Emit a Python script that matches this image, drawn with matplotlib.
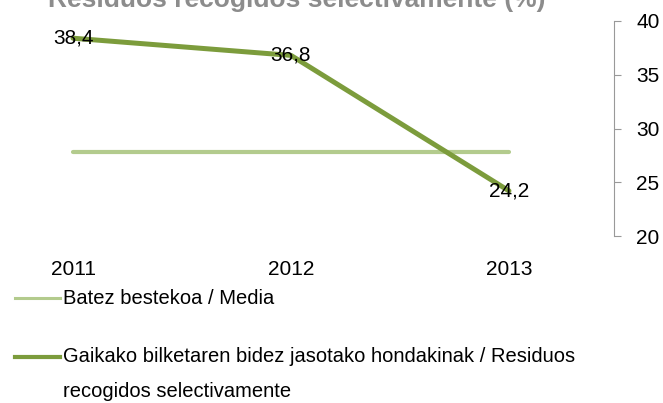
import matplotlib
matplotlib.use('Agg')
import matplotlib.pyplot as plt
from matplotlib.lines import Line2D

years = ['2011', '2012', '2013']
residuos = [38.4, 36.8, 24.2]
media = [27.8, 27.8, 27.8]
labels = ['38,4', '36,8', '24,2']
y_ticks = [20, 25, 30, 35, 40]

title = 'Residuos recogidos selectivamente (%)'
leg_media = 'Batez bestekoa / Media'
leg_res = 'Gaikako bilketaren bidez jasotako hondakinak / Residuos\nrecogidos selectivamente'

plt.rcParams['font.family'] = ['Liberation Sans', 'DejaVu Sans']

W, H = 663, 403
fig = plt.figure(figsize=(W / 100, H / 100), dpi=100)

# axes placed in pixel coords: spine at x=614, y from 21 (40) to 236 (20)
ax = fig.add_axes([0, 1 - 236 / H, 614 / W, (236 - 21) / H])
x = list(range(len(years)))
ax.plot(x, media, color='#b3cb8d', lw=3.0, solid_capstyle='round')
ax.plot(x, residuos, color='#7c9c3c', lw=3.6, solid_capstyle='round', solid_joinstyle='round')
for xi, yi, s in zip(x, residuos, labels):
    ax.text(xi, yi, s, ha='center', va='center', fontsize=15, color='black')

ax.set_xlim(-0.335, 2.482)
ax.set_ylim(20, 40)
ax.set_xticks(x)
ax.set_xticklabels(years, fontsize=15)
ax.tick_params(axis='x', length=0, pad=17)
ax.yaxis.tick_right()
ax.set_yticks(y_ticks)
ax.tick_params(axis='y', direction='out', length=5, color='#999999', labelsize=15, pad=11)
for side in ['left', 'top', 'bottom']:
    ax.spines[side].set_visible(False)
ax.spines['right'].set_color('#999999')
ax.patch.set_alpha(0)

fig.text(297 / W, 1 - 7 / H, title, ha='center', va='baseline', fontsize=19,
         fontweight='bold', color='#8c8c8c')

# legend
fig.add_artist(Line2D([15 / W, 60 / W], [1 - 298 / H] * 2, color='#b3cb8d', lw=2.2))
fig.text(63 / W, 1 - 298 / H, leg_media, ha='left', va='center', fontsize=14.5)
fig.add_artist(Line2D([15 / W, 60 / W], [1 - 357 / H] * 2, color='#7c9c3c', lw=3.0))
fig.text(63 / W, 1 - 347 / H, leg_res, ha='left', va='top', fontsize=14.5, linespacing=2.05)

fig.savefig('out.png', dpi=100)
